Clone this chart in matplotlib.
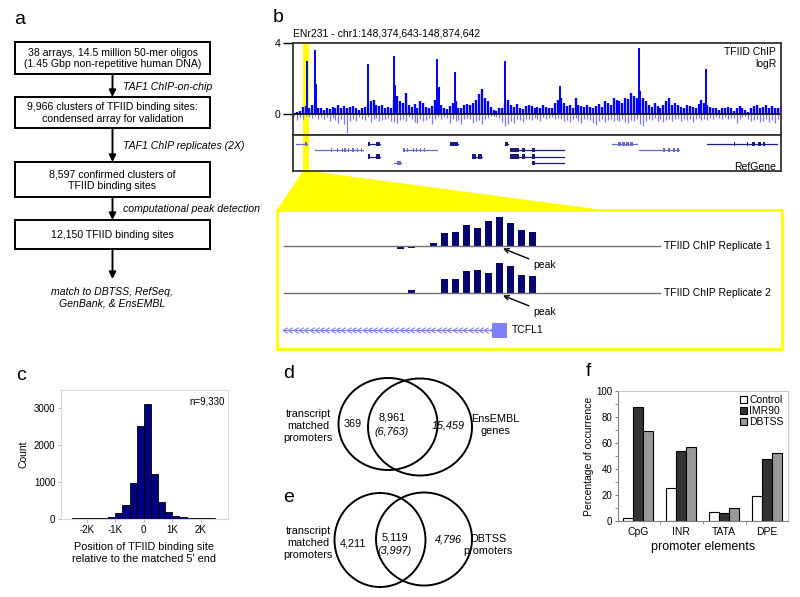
import numpy as np
import matplotlib.pyplot as plt
from matplotlib.patches import Rectangle, Ellipse, Polygon
from matplotlib.path import Path

plt.rcParams['font.family'] = ['Liberation Sans', 'DejaVu Sans']

W, H = 800, 597

# ---------------- data ----------------
# panel a: pipeline
flow_steps = ["38 arrays, 14.5 million 50-mer oligos\n(1.45 Gbp non-repetitive human DNA)",
              "9,966 clusters of TFIID binding sites:\ncondensed array for validation",
              "8,597 confirmed clusters of\nTFIID binding sites",
              "12,150 TFIID binding sites"]
flow_notes = ["TAF1 ChIP-on-chip", "TAF1 ChIP replicates (2X)",
              "computational peak detection"]
flow_end = "match to DBTSS, RefSeq,\nGenBank, & EnsEMBL"

# panel b: ENr231 logR track, 3 kb bins
chip_pos = [0.05, 0.1, 0.15, 0.4, 0.45, 0.3, 0.5, 0.6, 0.35, 0.3,
            0.2, 0.3, 0.25, 0.4, 0.3, 0.5, 0.35, 0.45, 0.3, 0.4,
            0.45, 0.3, 0.2, 0.35, 0.4, 0.5, 0.7, 0.8, 0.5, 0.45,
            0.5, 0.35, 0.4, 0.3, 0.8, 1.0, 0.7, 0.6, 1.2, 0.5,
            0.4, 0.55, 0.35, 0.7, 0.6, 0.4, 0.3, 0.45, 0.8, 1.0,
            0.5, 0.3, 0.25, 0.45, 0.6, 0.7, 0.35, 0.3, 0.5, 0.55,
            0.5, 0.6, 0.8, 1.1, 1.4, 0.9, 0.7, 0.4, 0.2, 0.15,
            0.3, 0.35, 0.6, 0.8, 0.5, 0.4, 0.55, 0.3, 0.25, 0.45,
            0.5, 0.45, 0.35, 0.4, 0.3, 0.5, 0.4, 0.35, 0.3, 0.6,
            0.8, 0.9, 0.6, 0.45, 0.5, 0.3, 0.9, 0.5, 0.45, 0.4,
            0.5, 0.4, 0.3, 0.45, 0.55, 0.4, 0.7, 0.6, 0.5, 0.9,
            0.8, 0.7, 0.6, 0.9, 0.85, 1.2, 1.0, 0.9, 0.8, 0.9,
            0.7, 0.5, 0.4, 0.6, 0.45, 0.3, 0.5, 0.7, 0.9, 0.5,
            0.6, 0.5, 0.4, 0.35, 0.5, 0.45, 0.4, 0.3, 0.55, 0.8,
            0.6, 0.5, 0.4, 0.35, 0.3, 0.2, 0.3, 0.35, 0.4, 0.3,
            0.15, 0.3, 0.45, 0.35, 0.2, 0.1, 0.3, 0.45, 0.5, 0.35,
            0.4, 0.5, 0.35, 0.45, 0.3, 0.35, 0.4]
chip_neg = [-0.1, -0.35, -0.2, -0.3, -0.1, -0.2, -0.25, -0.15, -0.3, -0.2,
            -0.3, -0.2, -0.4, -0.25, -0.35, -0.5, -0.3, -0.6, -1.1, -0.4,
            -0.3, -0.4, -0.2, -0.3, -0.35, -0.2, -0.45, -0.3, -0.25, -0.4,
            -0.35, -0.3, -0.25, -0.4, -0.45, -0.5, -0.35, -0.3, -0.4, -0.2,
            -0.3, -0.45, -0.5, -0.3, -0.4, -0.35, -0.25, -0.55, -0.3, -0.2,
            -0.3, -0.2, -0.25, -0.5, -0.3, -0.4, -0.35, -0.6, -0.3, -0.25,
            -0.3, -0.5, -0.4, -0.35, -0.6, -0.3, -0.25, -0.1, -0.15, -0.2,
            -0.25, -0.45, -0.7, -0.6, -0.4, -0.5, -0.3, -0.35, -0.45, -0.3,
            -0.3, -0.35, -0.25, -0.3, -0.4, -0.2, -0.3, -0.25, -0.2, -0.3,
            -0.25, -0.3, -0.4, -0.35, -0.45, -0.3, -0.25, -0.4, -0.5, -0.3,
            -0.3, -0.35, -0.5, -0.65, -0.4, -0.3, -0.45, -0.35, -0.3, -0.4,
            -0.35, -0.4, -0.3, -0.45, -0.5, -0.35, -0.4, -0.3, -0.55, -0.7,
            -0.4, -0.3, -0.35, -0.25, -0.4, -0.3, -0.45, -0.35, -0.3, -0.4,
            -0.3, -0.25, -0.4, -0.3, -0.35, -0.3, -0.45, -0.3, -0.25, -0.35,
            -0.3, -0.35, -0.25, -0.3, -0.2, -0.25, -0.3, -0.2, -0.3, -0.25,
            -0.25, -0.5, -0.3, -0.2, -0.15, -0.3, -0.4, -0.35, -0.3, -0.45,
            -0.4, -0.3, -0.45, -0.35, -0.5, -0.3, -0.25]
peak_kb = [14.5, 22.5, 23.5, 77, 103, 104.5, 148, 149.5, 166, 217, 274, 354, 355.5, 423]
peak_logr = [2.97, 3.59, 1.7, 2.84, 3.25, 1.6, 3.07, 1.5, 2.34, 2.99, 1.57, 3.72, 1.3, 2.54]

# RefGene models (kb)
gene_start = [3.4, 76.5, 160.5, 217.5, 326.8, 424, 22.9, 112.7, 222, 354,
              76.5, 183.4, 222, 103.8, 244.8]
gene_end = [14.3, 89.5, 168.7, 220, 352.4, 496, 71.7, 147.5, 277.3, 395,
            89.5, 193.6, 277.3, 110.7, 277.3]
gene_row = [1, 1, 1, 1, 1, 1, 2, 2, 2, 2, 3, 3, 3, 4, 4]
gene_dark = [0, 1, 1, 1, 0, 1, 0, 0, 1, 0, 1, 1, 1, 0, 1]
gene_exons = [[(12.6, 14.3)], [(76.5, 78.5), (85, 89.5)], [(160.5, 168.7)],
              [(217.5, 220)], [(333, 336), (337, 340), (341, 344), (345, 348)],
              [(452, 453), (465, 466), (470, 473), (476, 479), (482, 484)],
              [(39, 40), (45, 46), (50, 51), (52.5, 54), (56, 57.5), (60.5, 62), (66, 67), (69.5, 71)],
              [(113, 114.5), (116.5, 118), (123, 124), (126, 127.5), (130, 131.5), (134.5, 135.5)],
              [(222.7, 231.2), (234.6, 238), (244.8, 248.3)],
              [(379.5, 381), (384.5, 386), (389.5, 391), (393.5, 395)],
              [(76.5, 78.5), (85, 89.5)], [(183.4, 188), (190, 193.6)],
              [(222.7, 231.2), (234.6, 238), (244.8, 248.3)],
              [(107, 110.7)], [(244.8, 248.3)]]

# panel b inset: probe logR for TCFL1 promoter
rep1 = [-0.33, -0.2, -0.07, 0.33, 1.3, 1.43, 2.13, 1.8, 2.53, 2.9, 2.3, 1.57, 1.4, -0.1]
rep2 = [-0.07, 0.33, -0.07, -0.13, 1.37, 1.4, 2.2, 2.33, 2.0, 2.97, 2.67, 1.83, 1.7, -0.07]

# panel c: histogram of positions
hist_edges = list(range(-2500, 2501, 250))
hist_counts = [20, 20, 15, 20, 30, 50, 150, 370, 980, 2530,
               3120, 1230, 460, 200, 70, 50, 30, 20, 20, 20]

# panel f
elements = ['CpG', 'INR', 'TATA', 'DPE']
pct_control = [2.5, 25.5, 7, 19]
pct_imr90 = [88, 53.5, 6, 48]
pct_dbtss = [69, 57, 10, 52.5]


def rect(x0, y0, x1, y1):
    return [x0 / W, 1 - y1 / H, (x1 - x0) / W, (y1 - y0) / H]


fig = plt.figure(figsize=(8.0, 5.97), dpi=100)
ov = fig.add_axes([0, 0, 1, 1])
ov.set_xlim(0, W)
ov.set_ylim(H, 0)
ov.axis('off')

# panel letters
for lab, x, y in [('a', 20, 19), ('b', 278, 17), ('c', 21, 375),
                  ('d', 289, 373), ('e', 289, 497), ('f', 588, 372)]:
    ov.text(x, y, lab, fontsize=14, ha='center', va='center')

# ---------------- panel a ----------------
afs = 7.6
boxes_y = [(42, 74), (97, 128), (162, 197), (220, 249)]
for txt, (y0, y1) in zip(flow_steps, boxes_y):
    ov.add_patch(Rectangle((15, y0), 195, y1 - y0, fill=False, lw=1.4, ec='k'))
    ov.text(112.5, (y0 + y1) / 2 + 0.5, txt, ha='center', va='center', fontsize=afs,
            linespacing=1.2)
for i, note in enumerate(flow_notes):
    ya, yb = boxes_y[i][1], boxes_y[i + 1][0]
    ov.annotate('', xy=(112.5, yb), xytext=(112.5, ya),
                arrowprops=dict(arrowstyle='-|>', color='k', lw=1.4,
                                mutation_scale=10, shrinkA=0, shrinkB=0))
    ov.text(123, (ya + yb) / 2 + 1, note, fontsize=afs, style='italic', va='center')
ov.annotate('', xy=(112.5, 279), xytext=(112.5, 249),
            arrowprops=dict(arrowstyle='-|>', color='k', lw=1.4,
                            mutation_scale=10, shrinkA=0, shrinkB=0))
ov.text(112, 298, flow_end, fontsize=afs, style='italic', ha='center', va='center',
        linespacing=1.2)

# ---------------- panel b ----------------
ov.text(293, 34, "ENr231 - chr1:148,374,643-148,874,642", fontsize=7.5, va='center')
axb = fig.add_axes(rect(293, 43, 781, 135))
bins = (np.arange(len(chip_pos)) + 0.5) * 3
axb.axvspan(10.3, 16.4, color='#ffff00', lw=0, zorder=0)
axb.vlines(bins, 0, chip_pos, color='#0000ff', lw=1.7)
axb.vlines(bins, chip_neg, 0, color='#7878ff', lw=0.9)
axb.vlines(peak_kb, 0, peak_logr, color='#0000ff', lw=1.4)
axb.axhline(0, color='k', lw=1.2)
axb.set_xlim(0, 500)
axb.set_ylim(-1.2, 4)
axb.set_xticks([])
axb.set_yticks([0, 4])
axb.tick_params(axis='y', length=7, width=1, labelsize=7.5, pad=2, color='k')
for s in axb.spines.values():
    s.set_color('#333333')
    s.set_linewidth(1.3)
axb.text(0.99, 0.96, "TFIID ChIP\nlogR", transform=axb.transAxes, ha='right',
         va='top', fontsize=7.5, linespacing=1.3)

axg = fig.add_axes(rect(293, 135, 781, 171))
axg.axvspan(10.3, 16.4, color='#ffff00', lw=0, zorder=0)
for st, en, row, dk, ex in zip(gene_start, gene_end, gene_row, gene_dark, gene_exons):
    col = '#1c1c80' if dk else '#6a6ac8'
    axg.plot([st, en], [row, row], color=col, lw=0.9)
    for e0, e1 in ex:
        axg.add_patch(Rectangle((e0, row - 0.35), e1 - e0, 0.7, color=col, lw=0))
axg.set_xlim(0, 500)
axg.set_ylim(5.29, -0.43)
axg.set_xticks([])
axg.set_yticks([])
for s in axg.spines.values():
    s.set_color('#333333')
    s.set_linewidth(1.3)
axg.text(0.99, 0.12, "RefGene", transform=axg.transAxes, ha='right', va='center',
         fontsize=7.5)

# zoom wedge and inset
ov.add_patch(Polygon([(303, 171), (309.5, 171), (603, 210), (277, 210)],
                     closed=True, color='#ffff00', lw=0))
ov.add_patch(Rectangle((277, 210), 505, 139, fill=False, ec='#ffff00', lw=2))

probe_x = 400.7 + 11 * np.arange(len(rep1))
for vals, base, lab in [(rep1, 246, "TFIID ChIP Replicate 1"),
                        (rep2, 293, "TFIID ChIP Replicate 2")]:
    ov.plot([284, 660], [base, base], color='#707070', lw=1)
    ov.bar(probe_x, -10 * np.array(vals), bottom=base, width=6.7, color='#06066e')
    ov.text(664, base, lab, fontsize=7.5, va='center')
    ov.annotate('peak', xy=(503, base + 2.5), xytext=(533, base + 19),
                fontsize=7.5, va='center',
                arrowprops=dict(arrowstyle='->', color='k', lw=1,
                                shrinkA=1, shrinkB=0, mutation_scale=8))

chev = Path([(0.5, 0.6), (-0.5, 0), (0.5, -0.6)],
            [Path.MOVETO, Path.LINETO, Path.LINETO])
chev_x = np.arange(285, 492, 5.3)
ov.plot([283, 494], [330, 330], color='#8080ff', lw=0.8)
ov.plot(chev_x, np.full(len(chev_x), 330),
        ls='none', marker=chev, ms=4, mfc='none', mec='#8080ff', mew=0.8)
ov.add_patch(Rectangle((492, 322.5), 15, 15, color='#8080ff', lw=0))
ov.text(512, 330, "TCFL1", fontsize=7.5, va='center')

# ---------------- panel c ----------------
axc = fig.add_axes(rect(61, 390, 228, 519))
axc.bar(hist_edges[:-1], hist_counts, width=250, align='edge',
        color='#000080', edgecolor='k', lw=0.6)
axc.set_xlim(-2900, 2950)
axc.set_ylim(0, 3500)
axc.set_xticks([-2000, -1000, 0, 1000, 2000])
axc.set_xticklabels(['-2K', '-1K', '0', '1K', '2K'])
axc.set_yticks([0, 1000, 2000, 3000])
axc.tick_params(labelsize=7, length=2, color='#bbbbbb', pad=2)
for s in axc.spines.values():
    s.set_color('#d8d8d8')
axc.set_ylabel('Count', fontsize=7.5, labelpad=4)
axc.set_xlabel("Position of TFIID binding site\nrelative to the matched 5' end",
               fontsize=7.8, labelpad=5, linespacing=1.3)
axc.text(0.98, 0.95, 'n=9,330', transform=axc.transAxes, ha='right', va='top',
         fontsize=7)

# ---------------- panels d, e (Venn) ----------------
for (cx, cy, w, h) in [(388, 424, 99, 92), (420, 427, 104, 97)]:
    ov.add_patch(Ellipse((cx, cy), w, h, fill=False, ec='k', lw=1.4))
for (cx, cy, w, h) in [(380, 540, 91, 94), (424, 539, 96, 93)]:
    ov.add_patch(Ellipse((cx, cy), w, h, fill=False, ec='k', lw=1.4))

vfs = 7.8
ov.text(308, 426, "transcript\nmatched\npromoters", ha='center', va='center',
        fontsize=vfs, linespacing=1.2)
ov.text(353, 424, "369", ha='center', va='center', fontsize=vfs)
ov.text(392, 418, "8,961", ha='center', va='center', fontsize=vfs)
ov.text(392, 432, "(6,763)", ha='center', va='center', fontsize=vfs, style='italic')
ov.text(448, 425, "15,459", ha='center', va='center', fontsize=vfs, style='italic')
ov.text(495, 425, "EnsEMBL\ngenes", ha='center', va='center', fontsize=vfs,
        linespacing=1.2)

ov.text(308, 543, "transcript\nmatched\npromoters", ha='center', va='center',
        fontsize=vfs, linespacing=1.2)
ov.text(353, 543, "4,211", ha='center', va='center', fontsize=vfs)
ov.text(395, 537, "5,119", ha='center', va='center', fontsize=vfs)
ov.text(395, 551, "(3,997)", ha='center', va='center', fontsize=vfs, style='italic')
ov.text(448, 540, "4,796", ha='center', va='center', fontsize=vfs, style='italic')
ov.text(488, 545, "DBTSS\npromoters", ha='center', va='center', fontsize=vfs,
        linespacing=1.2)

# ---------------- panel f ----------------
axf = fig.add_axes(rect(618, 391, 788, 521))
xg = np.arange(len(elements))
bw = 0.235
axf.bar(xg - bw, pct_control, bw, color='white', edgecolor='k', lw=0.8, label='Control')
axf.bar(xg, pct_imr90, bw, color='#333333', edgecolor='k', lw=0.8, label='IMR90')
axf.bar(xg + bw, pct_dbtss, bw, color='#999999', edgecolor='k', lw=0.8, label='DBTSS')
axf.set_xlim(-0.47, 3.49)
axf.set_ylim(0, 100)
axf.set_xticks(xg)
axf.set_xticklabels(elements)
axf.set_xticks([0.5, 1.5, 2.5], minor=True)
axf.set_yticks(range(0, 101, 20))
axf.set_yticks(range(10, 100, 20), minor=True)
axf.tick_params(axis='x', which='major', length=0, labelsize=7.5, pad=4)
axf.tick_params(axis='x', which='minor', length=2, color='#808080')
axf.tick_params(axis='y', which='both', labelsize=7, length=2, color='#808080', pad=2)
axf.spines['left'].set_color('#808080')
axf.spines['bottom'].set_color('#808080')
axf.spines['top'].set_color('#c8c8c8')
axf.spines['right'].set_color('#c8c8c8')
axf.set_ylabel('Percentage of occurrence', fontsize=7.5, labelpad=2)
axf.set_xlabel('promoter elements', fontsize=9, labelpad=3)
axf.legend(loc='upper right', frameon=False, fontsize=7.5, handlelength=0.7,
           handleheight=0.7, handletextpad=0.2, labelspacing=0.1,
           borderaxespad=0.2, borderpad=0.2)

fig.savefig('out.png', dpi=100)
